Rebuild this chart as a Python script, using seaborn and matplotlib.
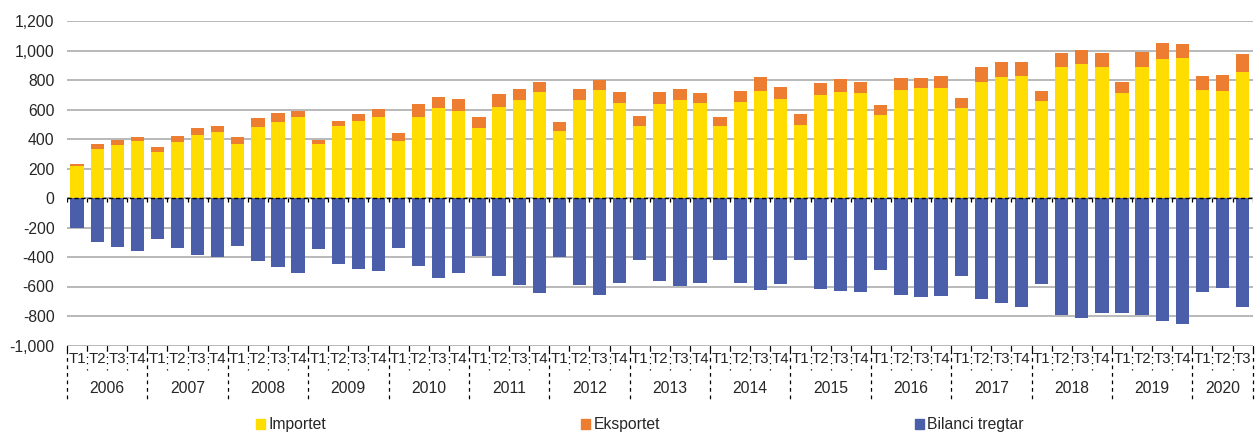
import numpy as np
import pandas as pd
import seaborn as sns
import matplotlib.pyplot as plt
import matplotlib.transforms as mtransforms
from matplotlib.patches import Patch

years = ['2006', '2007', '2008', '2009', '2010', '2011', '2012', '2013',
         '2014', '2015', '2016', '2017', '2018', '2019', '2020']
quarters = ['T1', 'T2', 'T3', 'T4']

importet = [217, 330, 359, 384, 310, 380, 429, 445, 366, 484, 518, 547,
            368, 486, 522, 547, 386, 547, 612, 590, 472, 619, 664, 716,
            456, 664, 730, 646, 488, 640, 667, 646, 488, 649, 725, 669,
            495, 696, 721, 710, 560, 734, 744, 748, 610, 786, 818, 829,
            655, 886, 908, 886, 710, 890, 942, 947, 734, 723, 854]
eksportet = [16, 34, 36, 32, 36, 43, 48, 45, 45, 61, 56, 41,
             23, 38, 48, 56, 55, 88, 73, 79, 77, 88, 77, 73,
             57, 75, 68, 70, 66, 81, 72, 68, 63, 74, 93, 86,
             77, 86, 88, 74, 71, 80, 72, 79, 70, 100, 104, 91,
             73, 95, 98, 99, 76, 100, 109, 95, 95, 113, 120]
bilanci = [-201, -300, -330, -359, -280, -341, -384, -402, -323, -424, -465, -510,
           -343, -449, -478, -497, -336, -460, -542, -510, -393, -528, -587, -645,
           -400, -589, -661, -578, -422, -560, -596, -578, -422, -575, -627, -585,
           -422, -614, -630, -639, -488, -655, -670, -666, -530, -684, -715, -736,
           -582, -790, -813, -783, -783, -790, -833, -853, -639, -607, -738]

periods = [f'{y} {q}' for y in years for q in quarters][:len(importet)]
df = pd.DataFrame({'period': periods, 'importet': importet,
                   'eksportet': eksportet, 'bilanci': bilanci})
df['total'] = df['importet'] + df['eksportet']

c_imp = '#FFDD00'
c_eks = '#ED7D31'
c_bil = '#4A5EAA'
grid_c = '#A6A6A6'

sns.set_style('white')
plt.rcParams['font.family'] = ['Liberation Sans', 'DejaVu Sans']

W, H = 1257, 434
fig = plt.figure(figsize=(W / 100, H / 100), dpi=100)
ax = fig.add_axes([67 / W, 1 - 345.5 / H, (1252.6 - 67) / W, (345.5 - 21) / H])

bar_kw = dict(x='period', saturation=1, width=0.66, linewidth=0,
              errorbar=None, ax=ax, zorder=2)
sns.barplot(data=df, y='total', color=c_eks, **bar_kw)
sns.barplot(data=df, y='importet', color=c_imp, **bar_kw)
sns.barplot(data=df, y='bilanci', color=c_bil, **bar_kw)

n = len(df)
ax.set_xlim(-0.5, n - 0.5)
ax.set_ylim(-1000, 1200)
ax.set_yticks(range(-1000, 1201, 200))
ax.set_yticklabels([f'{v:,}' for v in range(-1000, 1201, 200)], fontsize=11.3)
ax.yaxis.grid(True, color=grid_c, lw=1.1)
ax.set_axisbelow(True)
ax.tick_params(axis='y', length=0, pad=9)
sns.despine(ax=ax, left=True, bottom=True)
ax.set_xlabel('')
ax.set_ylabel('')

# quarter labels
ax.set_xticks(range(n))
ax.set_xticklabels([p.split()[1] for p in periods], fontsize=10.8)
ax.tick_params(axis='x', length=0, pad=4.5)

# zero line, dashed with small ticks
bounds = np.arange(n + 1) - 0.5
ax.axhline(0, color='black', lw=1, ls=(0, (3, 2)), zorder=4)
ax.vlines(bounds, -25, 0, color='black', lw=0.9, zorder=4)

# category separators below the plot
trans = mtransforms.blended_transform_factory(ax.transData, ax.transAxes)
for k, b in enumerate(bounds):
    ax.plot([b, b], [0, -0.014], color='black', lw=0.9,
            transform=trans, clip_on=False)
    if k % 4 == 0 or k == n:
        ax.plot([b, b], [-0.014, -0.165], color='black', lw=0.9,
                ls=(0, (3, 3)), transform=trans, clip_on=False)
    else:
        ax.plot([b, b], [-0.014, -0.075], color='black', lw=0.9,
                ls=(0, (1, 4)), transform=trans, clip_on=False)

# year labels
for i, y in enumerate(years):
    cnt = min(4, n - 4 * i)
    ax.text(4 * i + (cnt - 1) / 2, -0.131, y, transform=trans,
            ha='center', va='center', fontsize=11.3)

handles = [Patch(color=c_imp, label='Importet'),
           Patch(color=c_eks, label='Eksportet'),
           Patch(color=c_bil, label='Bilanci tregtar')]
fig.legend(handles=handles, ncol=3, mode='expand', loc='center',
           bbox_to_anchor=(256 / W, 1 - 425 / H, (1024 - 256) / W, 0),
           frameon=False, fontsize=11.3, handlelength=0.6, handleheight=0.6,
           handletextpad=0.2, borderpad=0, borderaxespad=0)

fig.savefig('out.png', dpi=100)
